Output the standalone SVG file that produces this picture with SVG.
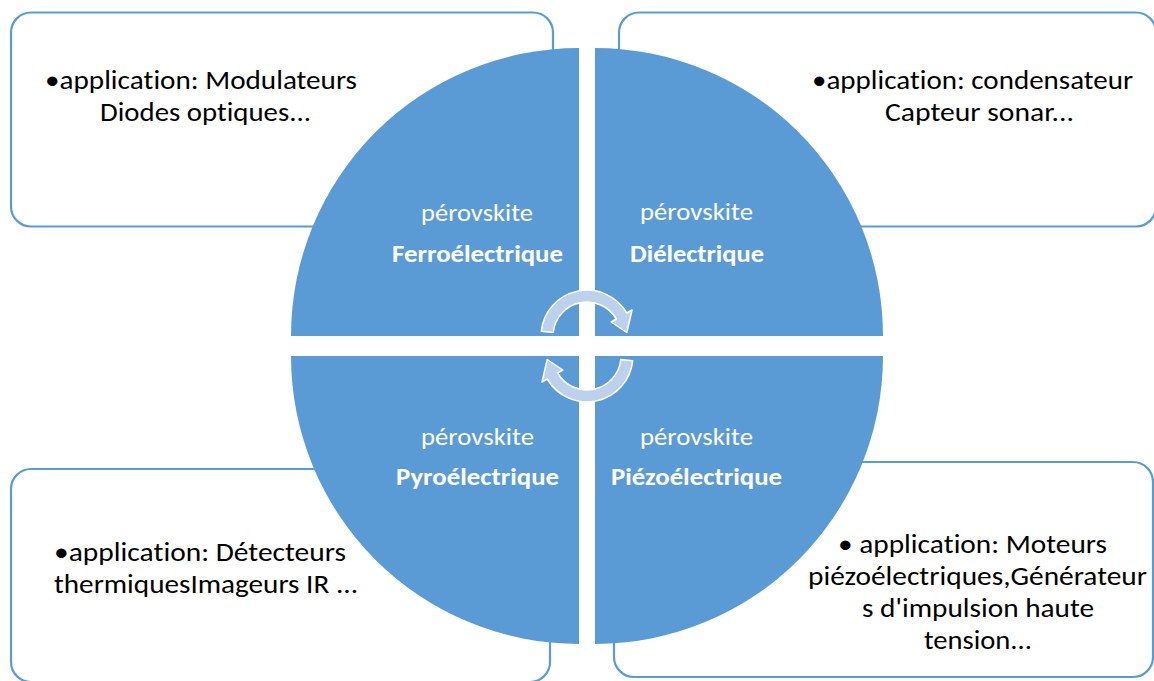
<svg xmlns="http://www.w3.org/2000/svg" width="1154" height="681" viewBox="0 0 1154 681">
<style>
text{font-variant-ligatures:none;font-feature-settings:"liga" 0,"clig" 0}
.box{fill:#ffffff;stroke:#5B9BD5;stroke-width:2.2}
.quad{fill:#5B9BD5}
.bt{font-family:Carlito,Lato,"Open Sans",sans-serif;font-size:27px;fill:#000000}
.b{font-size:27.1px}
.ql{font-family:Carlito,Lato,"Open Sans",sans-serif;font-size:25px;fill:#ffffff}
.qb{font-family:Carlito,Lato,"Open Sans",sans-serif;font-size:25px;font-weight:bold;fill:#ffffff}
.arr{fill:#BDD1EC;stroke:#ffffff;stroke-width:1.5;stroke-linejoin:round}
</style>
<rect width="1154" height="681" fill="#ffffff"/>
<g id="box-ferro">
<rect class="box" x="11" y="12.5" width="542" height="214" rx="20"/>
<text class="bt" x="45" y="89" textLength="312" lengthAdjust="spacingAndGlyphs">•applica<tspan class="b">t</tspan>ion: Modulateurs</text>
<text class="bt" x="100" y="121" textLength="211" lengthAdjust="spacingAndGlyphs">Diodes op<tspan class="b">t</tspan>iques...</text>
</g>
<g id="box-diel">
<rect class="box" x="619" y="12.5" width="537" height="214" rx="20"/>
<text class="bt" x="812" y="89" textLength="321" lengthAdjust="spacingAndGlyphs">•applica<tspan class="b">t</tspan>ion: condensateur</text>
<text class="bt" x="885" y="121" textLength="189" lengthAdjust="spacingAndGlyphs">Capteur sonar...</text>
</g>
<g id="box-pyro">
<rect class="box" x="11" y="469" width="539" height="213" rx="20"/>
<text class="bt" x="54" y="561" textLength="292" lengthAdjust="spacingAndGlyphs">•applica<tspan class="b">t</tspan>ion: Détecteurs</text>
<text class="bt" x="54" y="593" textLength="304" lengthAdjust="spacingAndGlyphs">thermiquesImageurs IR ...</text>
</g>
<g id="box-piezo">
<rect class="box" x="614" y="462" width="539" height="215" rx="20"/>
<text class="bt" x="838" y="553" textLength="269" lengthAdjust="spacingAndGlyphs">• applica<tspan class="b">t</tspan>ion: Moteurs</text>
<text class="bt" x="808" y="585" textLength="339" lengthAdjust="spacingAndGlyphs">piézoélectriques,Générateur</text>
<text class="bt" x="862" y="617" textLength="232" lengthAdjust="spacingAndGlyphs">s d'impulsion haute</text>
<text class="bt" x="924" y="649" textLength="108" lengthAdjust="spacingAndGlyphs">tension...</text>
</g>
<g id="quad-ferro">
<path class="quad" d="M579,336 L579,48 A288,288 0 0 0 291,336 Z"/>
<text class="ql" x="421" y="221" textLength="112" lengthAdjust="spacingAndGlyphs">pérovskite</text>
<text class="qb" x="392" y="262" textLength="171" lengthAdjust="spacingAndGlyphs">Ferroélectrique</text>
</g>
<g id="quad-diel">
<path class="quad" d="M595,336 L883,336 A288,288 0 0 0 595,48 Z"/>
<text class="ql" x="640" y="220" textLength="113" lengthAdjust="spacingAndGlyphs">pérovskite</text>
<text class="qb" x="630" y="262" textLength="134" lengthAdjust="spacingAndGlyphs">Diélectrique</text>
</g>
<g id="quad-pyro">
<path class="quad" d="M579,356 L291,356 A288,288 0 0 0 579,644 Z"/>
<text class="ql" x="421" y="445" textLength="113" lengthAdjust="spacingAndGlyphs">pérovskite</text>
<text class="qb" x="396" y="485" textLength="163" lengthAdjust="spacingAndGlyphs">Pyroélectrique</text>
</g>
<g id="quad-piezo">
<path class="quad" d="M595,356 L595,644 A288,288 0 0 0 883,356 Z"/>
<text class="ql" x="640" y="445" textLength="113" lengthAdjust="spacingAndGlyphs">pérovskite</text>
<text class="qb" x="611" y="485" textLength="171" lengthAdjust="spacingAndGlyphs">Piézoélectrique</text>
</g>
<g id="connectors">
<path class="arr" d="M541.3,331.2 A46,46 0 0 1 626.8,313 L632,310 L626.8,332.5 L611.2,322 L616.4,319 A34,34 0 0 0 553.2,332.4 Z"/>
<path class="arr" d="M632.7,360.8 A46,46 0 0 1 547.2,379 L542,382 L547.2,359.5 L562.8,370 L557.6,373 A34,34 0 0 0 620.8,359.6 Z"/>
</g>
</svg>
